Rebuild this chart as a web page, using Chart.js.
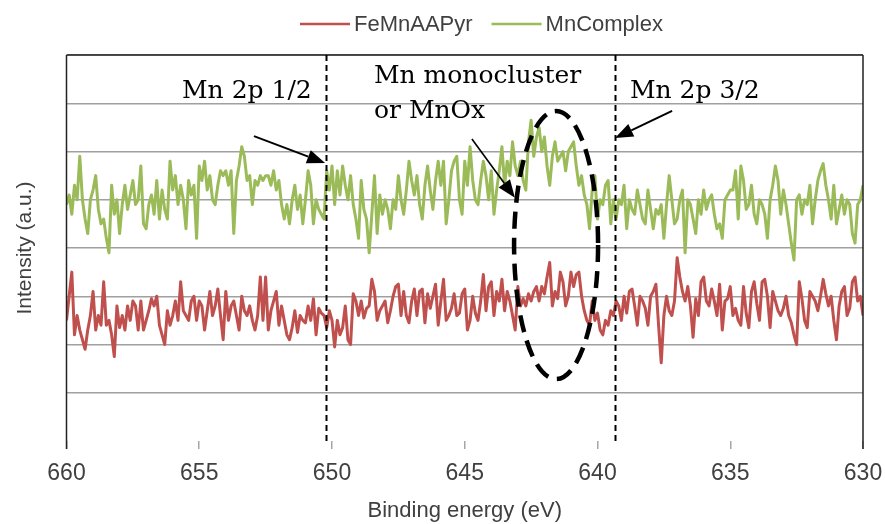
<!DOCTYPE html>
<html>
<head>
<meta charset="utf-8">
<script src="https://cdn.jsdelivr.net/npm/chart.js@4.4.1/dist/chart.umd.min.js"></script>
<style>
  html, body { margin: 0; padding: 0; background: #fff; }
  #wrap { width: 885px; height: 524px; }
</style>
</head>
<body>
<div id="wrap"><canvas id="xps-chart" width="885" height="524"></canvas></div>
<script>
// binding energy grid: 660 eV down to 630 eV, 0.1 eV per point
const energyStart = 660;
const energyStep = 0.1;
const xTicks = [660, 655, 650, 645, 640, 635, 630];

const mnComplex = [
  4.9,5.1,4.7,5.3,5.0,5.9,5.0,4.6,4.3,5.0,
  5.2,5.5,4.8,4.5,4.6,4.2,3.9,5.3,4.7,5.0,
  4.3,4.9,5.3,4.8,5.1,5.4,4.9,5.0,5.7,4.5,
  4.4,4.9,5.1,4.7,5.4,4.6,5.2,4.8,4.6,5.8,
  5.2,5.5,4.9,5.3,5.0,4.4,5.4,5.1,5.3,4.2,
  5.7,5.4,5.8,5.2,5.5,5.0,4.9,5.3,5.6,5.5,
  5.6,5.3,5.6,4.3,5.4,5.7,6.1,5.9,5.4,5.5,
  4.9,5.4,5.3,5.5,5.4,5.5,
  5.5,5.3,5.6,5.2,5.4,4.9,4.6,4.9,4.5,5.0,
  5.3,4.8,5.1,4.5,5.0,5.6,5.3,4.5,5.0,4.8,
  4.7,4.6,5.6,5.2,5.7,4.9,5.6,5.1,5.7,5.3,
  5.0,5.5,4.9,4.6,4.2,5.4,4.8,4.6,3.9,4.7,
  5.5,4.3,5.1,4.7,5.0,4.8,4.4,5.0,4.8,5.5,
  5.0,4.7,5.2,5.8,5.4,5.1,5.5,4.9,4.6,5.3,
  5.7,5.2,4.8,5.4,5.8,5.3,5.8,4.5,5.0,5.6,
  5.8,5.9,5.0,4.7,5.8,
  5.3,6.1,5.4,5.0,4.9,5.4,5.8,5.5,5.0,5.6,
  4.7,5.2,5.6,6.1,5.3,5.8,5.5,6.2,5.7,5.5,
  5.8,5.4,5.2,6.2,6.65,5.9,6.3,6.5,6.0,6.3,
  5.7,5.3,5.9,6.2,5.8,5.9,6.0,5.6,6.0,6.1,
  6.2,5.7,5.3,5.5,5.1,4.9,4.4,5.2,5.5,4.6,
  5.0,4.9,5.3,5.4,4.5,5.0,4.6,5.0,4.9,5.3,
  4.4,5.0,4.8,4.7,5.2,4.9,4.6,4.5,5.2,4.8,
  4.4,4.8,4.7,4.9,4.2,
  4.9,5.5,5.0,4.5,4.6,5.0,5.2,3.9,5.0,4.9,
  4.6,4.3,5.0,4.7,5.2,4.8,5.0,5.1,4.7,4.4,
  4.5,4.2,5.0,5.1,5.2,5.2,5.6,4.6,5.7,5.4,
  4.8,4.9,5.3,4.7,4.5,5.0,4.9,4.7,4.2,5.0,
  5.3,5.7,5.4,4.7,5.2,4.9,4.5,4.1,3.75,5.0,
  5.1,4.7,5.0,4.9,5.3,4.5,5.0,5.4,5.6,5.75,
  5.3,5.0,4.6,5.3,4.5,4.8,5.1,4.7,5.0,4.9,
  4.3,4.1,4.9,5.0,5.3
];

const feMnAAPyr = [
  2.5,3.0,3.5,2.2,2.6,2.3,2.1,1.9,2.3,2.6,
  3.1,2.3,2.6,2.4,3.3,2.4,2.5,2.2,1.75,2.8,
  2.35,2.6,2.3,2.8,2.5,2.9,2.8,2.3,2.9,2.3,
  2.5,2.7,2.95,2.8,3.0,2.4,2.2,2.0,2.7,2.4,
  2.6,2.9,2.5,3.3,2.7,2.6,2.5,2.9,3.0,2.5,
  2.9,2.8,2.3,2.7,3.1,2.6,2.8,3.15,2.6,2.1,
  3.1,2.5,2.8,2.9,2.6,2.3,3.0,2.7,2.6,2.8,
  2.5,2.3,2.6,3.4,2.5,3.4,
  2.3,2.7,2.9,3.1,2.4,2.8,2.5,2.2,2.1,2.35,
  2.7,2.25,2.6,2.5,2.45,2.8,2.5,2.95,2.2,2.75,
  2.65,2.6,2.35,2.7,2.5,1.95,2.5,2.2,2.35,2.8,
  2.1,2.0,3.05,2.9,2.6,2.9,2.55,2.75,2.8,3.35,
  3.1,2.5,2.7,2.8,2.9,2.45,2.7,3.0,3.2,3.25,
  2.6,3.1,2.6,2.45,2.9,3.15,2.6,3.1,3.15,2.45,
  3.05,2.75,3.0,3.25,2.4,2.9,3.35,2.5,2.6,2.75,
  3.05,2.6,2.65,3.05,3.15,
  2.3,2.5,3.0,2.65,2.5,2.9,3.45,2.7,3.2,3.3,
  2.6,3.1,2.9,3.35,2.7,3.1,2.9,2.6,2.3,3.2,
  2.8,2.95,2.8,3.05,2.9,3.1,3.2,2.9,3.2,3.05,
  3.4,3.7,2.8,3.1,2.95,3.5,3.3,2.8,3.0,3.5,
  3.2,3.45,3.5,3.0,2.7,2.5,2.4,2.9,2.5,2.65,
  2.3,2.2,2.5,2.4,2.7,2.6,2.9,2.8,2.5,3.0,
  2.65,3.1,3.15,2.8,2.4,3.0,2.9,2.75,2.4,3.0,
  3.1,3.25,2.4,1.62,2.6,
  3.0,2.7,2.6,2.9,3.8,3.4,3.1,2.9,3.2,2.8,
  2.15,2.95,2.6,3.3,3.4,2.9,2.8,3.15,2.9,2.6,
  3.25,2.3,2.9,2.95,3.2,2.6,2.75,2.5,2.4,3.2,
  2.65,2.35,3.1,3.3,2.85,2.5,3.3,3.35,3.0,2.35,
  3.1,2.9,2.7,2.6,2.75,3.0,2.6,2.45,2.2,2.0,
  3.3,2.95,2.5,2.35,3.1,3.0,2.9,2.7,3.0,3.35,
  3.05,2.8,3.0,2.5,2.1,2.8,3.1,3.2,2.6,2.75,
  3.3,3.4,2.9,3.0,2.6
];

const energies = feMnAAPyr.map((_, i) => +(energyStart - i * energyStep).toFixed(1));
const toPoints = (vals) => vals.map((v, i) => ({ x: energies[i], y: v }));

const RED = '#C0504D';
const GREEN = '#9BBB59';
const TEXT = '#404040';

// top legend, left/right frame, dashed markers, arrows, ellipse
const decorations = {
  id: 'decorations',
  afterDatasetsDraw(chart) {
    const { ctx, chartArea: ca, scales: { x, y } } = chart;
    ctx.save();

    // frame: left and right dark lines reaching down to tick length
    ctx.strokeStyle = '#222';
    ctx.lineWidth = 1.5;
    ctx.beginPath();
    ctx.moveTo(ca.left, ca.top); ctx.lineTo(ca.left, ca.bottom + 8);
    ctx.moveTo(ca.right, ca.top); ctx.lineTo(ca.right, ca.bottom + 8);
    ctx.moveTo(ca.left, ca.top); ctx.lineTo(ca.right, ca.top);
    ctx.stroke();

    // dashed peak markers
    ctx.strokeStyle = '#000';
    ctx.lineWidth = 2;
    ctx.setLineDash([6, 4]);
    [650.23, 639.33].forEach(e => {
      const px = Math.round(x.getPixelForValue(e)) + 0.5;
      ctx.beginPath();
      ctx.moveTo(px, ca.top);
      ctx.lineTo(px, ca.bottom);
      ctx.stroke();
    });

    // ellipse round the shoulder
    ctx.lineWidth = 4.5;
    ctx.setLineDash([17, 9]);
    const cx = x.getPixelForValue(641.56), cy = y.getPixelForValue(4.06);
    ctx.beginPath();
    ctx.ellipse(cx, cy, 42, 134, 0, 0, Math.PI * 2);
    ctx.stroke();
    ctx.setLineDash([]);

    // arrows
    const arrow = (e0, v0, e1, v1, w) => {
      const x0 = x.getPixelForValue(e0), y0 = y.getPixelForValue(v0);
      const x1 = x.getPixelForValue(e1), y1 = y.getPixelForValue(v1);
      const a = Math.atan2(y1 - y0, x1 - x0);
      const len = 18, half = 7;
      const bx = x1 - len * Math.cos(a), by = y1 - len * Math.sin(a);
      ctx.lineWidth = w;
      ctx.beginPath();
      ctx.moveTo(x0, y0); ctx.lineTo(bx, by);
      ctx.stroke();
      ctx.beginPath();
      ctx.moveTo(x1, y1);
      ctx.lineTo(bx + half * Math.sin(a), by - half * Math.cos(a));
      ctx.lineTo(bx - half * Math.sin(a), by + half * Math.cos(a));
      ctx.closePath();
      ctx.fill();
    };
    ctx.fillStyle = '#000';
    arrow(652.94, 6.32, 650.26, 5.76, 2);
    arrow(644.73, 6.26, 643.11, 5.04, 1.6);
    arrow(637.19, 6.84, 639.34, 6.28, 2);

    // annotation text
    ctx.font = '25px "DejaVu Serif"';
    ctx.textBaseline = 'alphabetic';
    ctx.textAlign = 'left';
    const put = (t, e, v) => ctx.fillText(t, x.getPixelForValue(e), y.getPixelForValue(v));
    put('Mn 2p 1/2', 655.65, 7.11);
    put('Mn monocluster', 648.42, 7.42);
    put('or MnOx', 648.42, 6.69);
    put('Mn 2p 3/2', 638.78, 7.11);

    // legend
    ctx.font = '22px "Liberation Sans"';
    ctx.textBaseline = 'middle';
    ctx.fillStyle = TEXT;
    let lx = 300;
    chart.data.datasets.forEach(ds => {
      ctx.strokeStyle = ds.borderColor;
      ctx.lineWidth = 2.5;
      ctx.beginPath();
      ctx.moveTo(lx, 24); ctx.lineTo(lx + 50, 24);
      ctx.stroke();
      ctx.fillText(ds.label, lx + 54, 25);
      lx += 54 + ctx.measureText(ds.label).width + 19;
    });
    ctx.restore();
  }
};

new Chart(document.getElementById('xps-chart'), {
  type: 'line',
  data: {
    datasets: [
      { label: 'FeMnAAPyr', data: toPoints(feMnAAPyr), borderColor: RED, borderWidth: 3 },
      { label: 'MnComplex', data: toPoints(mnComplex), borderColor: GREEN, borderWidth: 3 }
    ]
  },
  options: {
    responsive: false,
    animation: false,
    events: [],
    layout: { padding: { top: 55, right: 22, left: 0, bottom: 0 } },
    elements: { point: { radius: 0 }, line: { tension: 0, borderJoinStyle: 'round' } },
    plugins: { legend: { display: false }, tooltip: { enabled: false } },
    scales: {
      x: {
        type: 'linear',
        reverse: true,
        min: 630,
        max: 660,
        afterBuildTicks: (scale) => { scale.ticks = xTicks.map(v => ({ value: v })); },
        afterFit: (scale) => {
          scale.height = 83;
          scale.paddingLeft = 0;
          scale.paddingRight = 0;
        },
        border: { display: false },
        grid: { drawOnChartArea: false, tickLength: 8, color: '#a6a6a6', lineWidth: 1.5 },
        ticks: { font: { family: 'Liberation Sans', size: 23 }, color: TEXT, padding: 11, maxRotation: 0 },
        title: {
          display: true,
          text: 'Binding energy (eV)',
          font: { family: 'Liberation Sans', size: 22 },
          color: TEXT,
          padding: { top: 0, bottom: 0 }
        }
      },
      y: {
        min: 0,
        max: 8,
        afterFit: (scale) => { scale.width = 66.5; },
        border: { display: false },
        grid: {
          drawTicks: false,
          lineWidth: 1.5,
          color: (c) => (c.tick.value === 0 ? 'rgba(0,0,0,0)' : '#a0a0a0')
        },
        ticks: { stepSize: 1, display: false },
        title: {
          display: true,
          text: 'Intensity (a.u.)',
          font: { family: 'Liberation Sans', size: 21 },
          color: TEXT,
          padding: { top: 13, bottom: 0 }
        }
      }
    }
  },
  plugins: [decorations]
});
</script>
</body>
</html>
